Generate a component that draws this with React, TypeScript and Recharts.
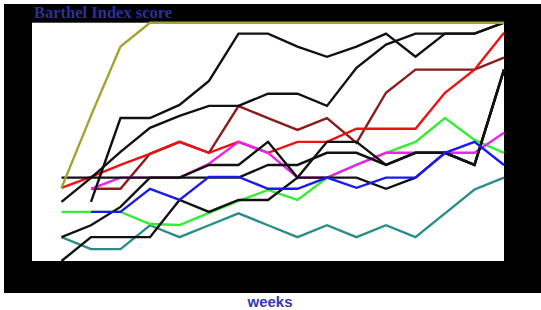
import React from 'react';
import { LineChart, Line, XAxis, YAxis, CartesianGrid } from 'recharts';

// weeks of follow-up (x) and Barthel Index score per patient (y, 0-100)
const weeks = [1, 2, 3, 4, 5, 6, 7, 8, 9, 10, 11, 12, 13, 14, 15, 16];

const olive = [30.7, 61, 90, 100, 100, 100, 100, 100, 100, 100, 100, 100, 100, 100, 100, 100];
const blackA = [null, 24.8, 60, 60, 65.5, 75.6, 95.4, 95.4, 90, 85.7, 90, 95.4, 85.7, 95.4, 95.4, 100];
const blackB = [24.8, 34.9, 45.8, 55.9, 60.9, 65.1, 65.1, 70.2, 70.2, 65.1, 81.1, 90.8, 95.4, 95.4, 95.4, 100];
const blackH = [35, 35, 35, 35, 35, 35, 35, 40.3, 40.3, 45.4, 45.4, 40.3, 45.4, 45.4, 40.3, 80.3];
const blackD = [10, 15, 22.7, 35, 35, 40.3, 40.3, 50, 35, 50, 50, 40.3, 45.4, 45.4, 40.3, 80.3];
const blackE = [0, 10, 10, 10, 25.6, 20.6, 25.6, 25.6, 35, 35, 35, 30.3, 35, 45.4, 40.3, 80.3];
const red = [30.7, 35.3, 40.3, 45, 50, 45.4, 50, 45.4, 50, 50, 55.5, 55.5, 55.5, 70.6, 80.3, 95.8];
const darkRed = [null, 30.3, 30.3, 45, 50, 45.4, 65, 60, 55, 60, 49.6, 70.6, 80.3, 80.3, 80.3, 85.3];
const magenta = [null, 30.3, 35, 35, 35, 40.8, 50, 45.4, 35, 35, 40.3, 45.4, 45.4, 45.4, 45.4, 53.8];
const blue = [null, 20.6, 20.6, 30.3, 25.6, 35.3, 35.3, 30.3, 30.3, 35, 30.7, 35, 35, 45.4, 50, 40.3];
const green = [20.6, 20.6, 20.6, 15.5, 15.1, 20.2, 25.2, 29.8, 25.6, 34.9, 40.3, 45.4, 50, 60, 50.8, 45.4];
const teal = [10, 5, 5, 15, 10, 15, 20, 15, 10, 15, 10, 15, 10, 20, 30, 35];

const data = weeks.map((w, i) => ({
  week: w,
  olive: olive[i],
  blackA: blackA[i],
  blackB: blackB[i],
  blackH: blackH[i],
  blackD: blackD[i],
  blackE: blackE[i],
  red: red[i],
  darkRed: darkRed[i],
  magenta: magenta[i],
  blue: blue[i],
  green: green[i],
  teal: teal[i],
}));

// draw order: first is at the bottom
const series = [
  { key: 'teal', color: '#2b8d88' },
  { key: 'green', color: '#33ee33' },
  { key: 'darkRed', color: '#8a1c1c' },
  { key: 'red', color: '#ee1111' },
  { key: 'magenta', color: '#ee22ee' },
  { key: 'blackD', color: '#111111' },
  { key: 'blackE', color: '#111111' },
  { key: 'blackH', color: '#111111' },
  { key: 'blackB', color: '#111111' },
  { key: 'blackA', color: '#111111' },
  { key: 'olive', color: '#a3a332' },
  { key: 'blue', color: '#1a1aee' },
];

export default function App() {
  return (
    <div style={{ position: 'relative', width: 541, height: 310, background: '#fff', overflow: 'hidden' }}>
      <style>{'body{margin:0}'}</style>
      {/* black frame behind the plot */}
      <div style={{ position: 'absolute', left: 4, top: 4, width: 537, height: 289, background: '#000' }} />
      <div style={{ position: 'absolute', left: 0, top: 0 }}>
        <LineChart width={541} height={310} data={data} margin={{ top: 22.7, right: 37, bottom: 49, left: 32 }}>
          <CartesianGrid horizontal={false} vertical={false} fill="#fff" />
          <XAxis type="number" dataKey="week" domain={[0, 16]} hide />
          <YAxis type="number" domain={[0, 100]} hide />
          {series.map(s => (
            <Line
              key={s.key}
              type="linear"
              dataKey={s.key}
              stroke={s.color}
              strokeWidth={2.4}
              dot={false}
              activeDot={false}
              isAnimationActive={false}
            />
          ))}
        </LineChart>
      </div>
      <div
        style={{
          position: 'absolute', left: 34, top: 5, fontFamily: '"Liberation Serif", "DejaVu Serif", serif',
          fontWeight: 'bold', fontSize: 16.5, lineHeight: '16.5px', color: '#2f2f9c', whiteSpace: 'nowrap',
        }}
      >
        Barthel Index score
      </div>
      <div
        style={{
          position: 'absolute', left: 220, top: 294, width: 100, textAlign: 'center',
          fontFamily: '"Liberation Sans", Arial, sans-serif', fontWeight: 'bold', fontSize: 15,
          lineHeight: '15px', color: '#3838b0',
        }}
      >
        weeks
      </div>
    </div>
  );
}
